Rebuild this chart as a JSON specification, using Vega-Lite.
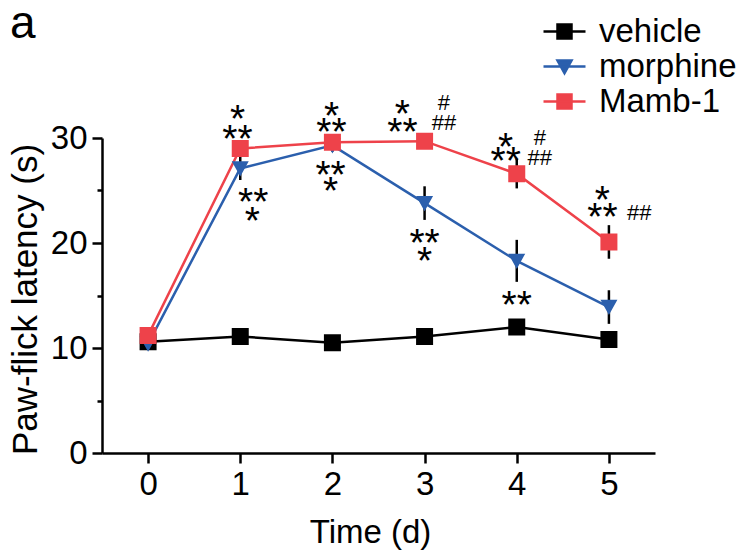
{
  "$schema": "https://vega.github.io/schema/vega-lite/v6.json",
  "autosize": "none",
  "width": 553,
  "height": 315,
  "padding": {"left": 102, "top": 138, "right": 90, "bottom": 102},
  "background": "white",
  "config": {
    "view": {"stroke": null},
    "font": "Liberation Sans",
    "axis": {
      "grid": false,
      "domainColor": "black",
      "domainWidth": 2.5,
      "tickColor": "black",
      "tickWidth": 2.5,
      "labelColor": "black",
      "labelFont": "Liberation Sans",
      "labelFontSize": 33,
      "titleColor": "black",
      "titleFont": "Liberation Sans",
      "titleFontSize": 33,
      "titleFontWeight": "normal"
    },
    "legend": {
      "orient": "none",
      "legendX": 446,
      "legendY": -123,
      "labelFont": "Liberation Sans",
      "labelFontSize": 33,
      "labelColor": "black",
      "symbolSize": 196,
      "symbolStrokeWidth": 2.5,
      "labelOffset": 18,
      "labelLimit": 300,
      "rowPadding": 1,
      "padding": 0
    }
  },
  "title": {
    "text": "a",
    "anchor": "start",
    "frame": "group",
    "dx": -92,
    "dy": 69,
    "offset": 0,
    "fontSize": 46,
    "fontWeight": "normal",
    "font": "Liberation Sans",
    "color": "black",
    "baseline": "alphabetic"
  },
  "datasets": {
    "main": [
      {"group": "vehicle", "day": 0, "mean": 10.6, "sem": 0.3},
      {"group": "vehicle", "day": 1, "mean": 11.1, "sem": 0.4},
      {"group": "vehicle", "day": 2, "mean": 10.5, "sem": 0.3},
      {"group": "vehicle", "day": 3, "mean": 11.1, "sem": 0.4},
      {"group": "vehicle", "day": 4, "mean": 12.0, "sem": 0.5},
      {"group": "vehicle", "day": 5, "mean": 10.8, "sem": 0.4},
      {"group": "morphine", "day": 0, "mean": 10.4, "sem": 0.3},
      {"group": "morphine", "day": 1, "mean": 27.1, "sem": 1.1},
      {"group": "morphine", "day": 2, "mean": 29.3, "sem": 0.6},
      {"group": "morphine", "day": 3, "mean": 23.8, "sem": 1.6},
      {"group": "morphine", "day": 4, "mean": 18.3, "sem": 2.0},
      {"group": "morphine", "day": 5, "mean": 13.9, "sem": 1.6},
      {"group": "Mamb-1", "day": 0, "mean": 11.2, "sem": 0.4},
      {"group": "Mamb-1", "day": 1, "mean": 29.0, "sem": 0.6},
      {"group": "Mamb-1", "day": 2, "mean": 29.6, "sem": 0.4},
      {"group": "Mamb-1", "day": 3, "mean": 29.7, "sem": 0.4},
      {"group": "Mamb-1", "day": 4, "mean": 26.6, "sem": 1.4},
      {"group": "Mamb-1", "day": 5, "mean": 20.1, "sem": 1.6}
    ],
    "stars": [
      {"x": 0.97, "y": 32.7, "label": "*"},
      {"x": 0.97, "y": 30.8, "label": "**"},
      {"x": 1.14, "y": 24.8, "label": "**"},
      {"x": 1.13, "y": 23.0, "label": "*"},
      {"x": 1.99, "y": 33.0, "label": "*"},
      {"x": 1.99, "y": 31.4, "label": "**"},
      {"x": 1.98, "y": 27.3, "label": "**"},
      {"x": 1.98, "y": 25.8, "label": "*"},
      {"x": 2.76, "y": 33.1, "label": "*"},
      {"x": 2.76, "y": 31.4, "label": "**"},
      {"x": 3.0, "y": 20.9, "label": "**"},
      {"x": 3.0, "y": 19.1, "label": "*"},
      {"x": 3.88, "y": 30.0, "label": "*"},
      {"x": 3.88, "y": 28.7, "label": "**"},
      {"x": 4.0, "y": 15.0, "label": "**"},
      {"x": 4.93, "y": 25.0, "label": "*"},
      {"x": 4.93, "y": 23.3, "label": "**"}
    ],
    "hashes": [
      {"x": 3.21, "y": 33.4, "label": "#"},
      {"x": 3.21, "y": 31.5, "label": "##"},
      {"x": 4.25, "y": 30.1, "label": "#"},
      {"x": 4.25, "y": 28.2, "label": "##"},
      {"x": 5.33, "y": 23.0, "label": "##"}
    ]
  },
  "resolve": {"axis": {"y": "independent"}},
  "layer": [
    {
      "data": {"name": "main"},
      "mark": {"type": "errorbar", "color": "black", "thickness": 2.5},
      "encoding": {
        "x": {"field": "day", "type": "quantitative", "scale": {"domain": [-0.5, 5.5], "nice": false}},
        "y": {
          "field": "mean", "type": "quantitative",
          "scale": {"domain": [0, 30], "nice": false, "zero": true},
          "axis": {"orient": "left", "values": [5, 15, 25], "labels": false, "domain": false, "tickSize": 5, "title": null}
        },
        "yError": {"field": "sem"}
      }
    },
    {
      "data": {"name": "main"},
      "mark": {"type": "line", "strokeWidth": 2.5},
      "encoding": {
        "x": {
          "field": "day", "type": "quantitative",
          "axis": {"values": [0, 1, 2, 3, 4, 5], "format": "d", "tickSize": 10, "labelPadding": 5, "title": "Time (d)", "titleX": 268, "titleY": 89, "titleBaseline": "alphabetic", "titleAlign": "center"}
        },
        "y": {
          "field": "mean", "type": "quantitative",
          "axis": {"orient": "left", "values": [0, 10, 20, 30], "format": "d", "tickSize": 10, "labelPadding": 5, "title": "Paw-flick latency (s)", "titleFontSize": 35, "titleX": -66, "titleY": 161, "titleBaseline": "alphabetic", "titleAlign": "center", "titleAngle": -90}
        },
        "color": {
          "field": "group", "type": "nominal",
          "scale": {"domain": ["vehicle", "morphine", "Mamb-1"], "range": ["#000000", "#2b5fad", "#ee424a"]},
          "legend": {"title": null}
        }
      }
    },
    {
      "data": {"name": "main"},
      "mark": {"type": "point", "filled": true, "opacity": 1, "size": 289, "strokeWidth": 0},
      "encoding": {
        "x": {"field": "day", "type": "quantitative"},
        "y": {"field": "mean", "type": "quantitative", "axis": null},
        "color": {"field": "group", "type": "nominal", "legend": {"title": null}},
        "shape": {
          "field": "group", "type": "nominal",
          "scale": {"domain": ["vehicle", "morphine", "Mamb-1"], "range": ["M-3,0H3M-1,-1H1V1H-1Z", "M-3,0H3M-1,-0.85L1,-0.85L0,0.95Z", "M-3,0H3M-1,-1H1V1H-1Z"]},
          "legend": {"title": null}
        }
      }
    },
    {
      "data": {"name": "stars"},
      "mark": {"type": "text", "fontSize": 39, "baseline": "alphabetic", "align": "center", "dy": 22, "color": "black", "font": "Liberation Sans"},
      "encoding": {
        "x": {"field": "x", "type": "quantitative"},
        "y": {"field": "y", "type": "quantitative", "axis": null},
        "text": {"field": "label"}
      }
    },
    {
      "data": {"name": "hashes"},
      "mark": {"type": "text", "fontSize": 22, "baseline": "alphabetic", "align": "center", "dy": 8, "color": "black", "font": "Liberation Sans"},
      "encoding": {
        "x": {"field": "x", "type": "quantitative"},
        "y": {"field": "y", "type": "quantitative", "axis": null},
        "text": {"field": "label"}
      }
    }
  ]
}
